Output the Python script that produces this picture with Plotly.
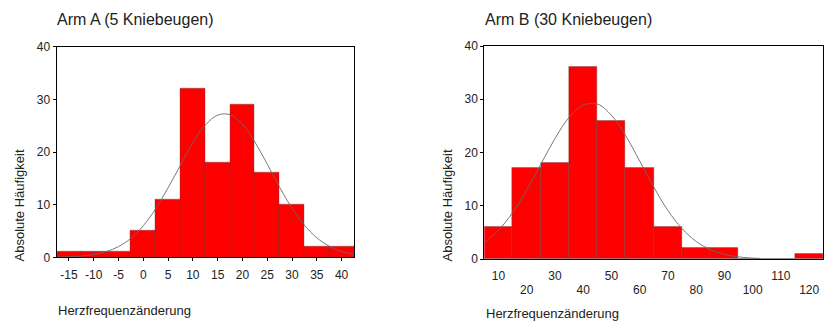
import plotly.graph_objects as go

# ---------------- data ----------------
# Arm A (5 Kniebeugen): bin centres (width 5) and absolute counts
bins_a = [-15, -10, -5, 0, 5, 10, 15, 20, 25, 30, 35, 40]
counts_a = [1, 1, 1, 5, 11, 32, 18, 29, 16, 10, 2, 2]
# fitted normal curve
curve_x_a = [-17.5, -15, -12.5, -10, -7.5, -5, -2.5, 0, 2.5, 5, 7.5, 10, 12.5,
             15, 17.5, 20, 22.5, 25, 27.5, 30, 32.5, 35, 37.5, 40, 42.5]
curve_y_a = [0.04, 0.10, 0.24, 0.52, 1.07, 2.03, 3.6, 6.0, 9.2, 13.2, 17.5, 21.8, 25.1,
             27.0, 27.1, 25.3, 21.9, 17.7, 13.3, 9.3, 6.1, 3.7, 2.1, 1.1, 0.54]

# Arm B (30 Kniebeugen): bin centres (width 10) and absolute counts
bins_b = [10, 20, 30, 40, 50, 60, 70, 80, 90, 100, 110, 120]
counts_b = [6, 17, 18, 36, 26, 17, 6, 2, 2, 0, 0, 1]
curve_x_b = [5, 10, 15, 20, 25, 30, 35, 40, 45, 50, 55, 60, 65, 70, 75, 80, 85,
             90, 95, 100, 102.5]
curve_y_b = [3.1, 5.4, 8.7, 12.9, 17.8, 22.6, 26.6, 28.9, 29.1, 27.0, 23.2, 18.4,
             13.5, 9.1, 5.7, 3.3, 1.76, 0.87, 0.40, 0.17, 0.11]

y_ticks = [0, 10, 20, 30, 40]
x_ticks_a = [-15, -10, -5, 0, 5, 10, 15, 20, 25, 30, 35, 40]
x_ticklabels_a = ["-15", "-10", "-5", "0", "5", "10", "15", "20", "25", "30", "35", "40"]
x_ticks_b_row1 = [10, 30, 50, 70, 90, 110]
x_ticks_b_row2 = [20, 40, 60, 80, 100, 120]

title_a = "Arm A (5 Kniebeugen)"
title_b = "Arm B (30 Kniebeugen)"
x_title = "Herzfrequenzänderung"
y_title = "Absolute Häufigkeit"

# ---------------- figure ----------------
W, H = 825, 323
FONT = "Liberation Sans, Arial, sans-serif"
TXT = "#222222"

def px(x):
    return x / W

def py(y):
    return 1 - y / H

bar_line = dict(color="rgba(70,70,70,0.35)", width=1)
curve_line = dict(color="#6a6a6a", width=0.9, shape="spline")

fig = go.Figure()
fig.add_trace(go.Bar(x=bins_a, y=counts_a, width=5, marker=dict(color="#ff0000", line=bar_line),
                     xaxis="x", yaxis="y", showlegend=False))
fig.add_trace(go.Scatter(x=curve_x_a, y=curve_y_a, mode="lines", line=curve_line,
                         xaxis="x", yaxis="y", showlegend=False))
fig.add_trace(go.Bar(x=bins_b, y=counts_b, width=10, marker=dict(color="#ff0000", line=bar_line),
                     xaxis="x2", yaxis="y2", showlegend=False))
fig.add_trace(go.Scatter(x=curve_x_b, y=curve_y_b, mode="lines", line=curve_line,
                         xaxis="x2", yaxis="y2", showlegend=False))
# invisible trace to activate the second label row axis
fig.add_trace(go.Scatter(x=[bins_b[0]], y=[0], mode="markers", marker=dict(opacity=0),
                         xaxis="x3", yaxis="y2", showlegend=False, hoverinfo="skip"))

tickfont = dict(family=FONT, size=12, color=TXT)
axis_common = dict(showgrid=False, zeroline=False, showline=True, mirror=True,
                   linecolor="black", linewidth=1, automargin=False, tickfont=tickfont)

fig.update_layout(
    template="none",
    width=W, height=H, margin=dict(l=0, r=0, t=0, b=0, pad=0), autosize=False,
    paper_bgcolor="white", plot_bgcolor="white", bargap=0,
    xaxis=dict(domain=[px(56.5), px(354)], anchor="y", range=[-17.5, 42.5],
               tickvals=x_ticks_a, ticktext=x_ticklabels_a, ticks="outside", ticklen=3,
               tickcolor="black", ticklabelstandoff=3, **axis_common),
    yaxis=dict(domain=[py(257.3), py(46.7)], anchor="x", range=[0, 40],
               tickvals=y_ticks, ticks="outside", ticklen=3, tickcolor="black",
               **axis_common),
    xaxis2=dict(domain=[px(484.3), px(823.3)], anchor="y2", range=[5, 125],
                tickvals=x_ticks_b_row1, ticks="", ticklabelstandoff=6, **axis_common),
    xaxis3=dict(overlaying="x2", anchor="y2", side="bottom", range=[5, 125],
                showgrid=False, zeroline=False, showline=False, automargin=False,
                tickvals=x_ticks_b_row2, ticks="", ticklabelstandoff=22,
                tickfont=tickfont),
    yaxis2=dict(domain=[py(259), py(46)], anchor="x2", range=[0, 40],
                tickvals=y_ticks, ticks="outside", ticklen=3, tickcolor="black",
                **axis_common),
)

ann_font = dict(family=FONT, size=13, color=TXT)
title_font = dict(family=FONT, size=16, color=TXT)
annotations = [
    dict(text=title_a, x=px(55), y=py(19), xanchor="left", yanchor="middle", font=title_font),
    dict(text=title_b, x=px(483), y=py(19), xanchor="left", yanchor="middle", font=title_font),
    dict(text=x_title, x=px(56), y=py(310), xanchor="left", yanchor="middle", font=ann_font),
    dict(text=x_title, x=px(484), y=py(313), xanchor="left", yanchor="middle", font=ann_font),
    dict(text=y_title, x=px(18.5), y=py(206), xanchor="center", yanchor="middle",
         textangle=-90, font=ann_font),
    dict(text=y_title, x=px(446.5), y=py(206), xanchor="center", yanchor="middle",
         textangle=-90, font=ann_font),
]
for a in annotations:
    a.update(xref="paper", yref="paper", showarrow=False)
fig.update_layout(annotations=annotations)

fig.write_html("out.html", config={"displayModeBar": False},
               post_script="document.body.style.margin='0';document.body.style.overflow='hidden';")
